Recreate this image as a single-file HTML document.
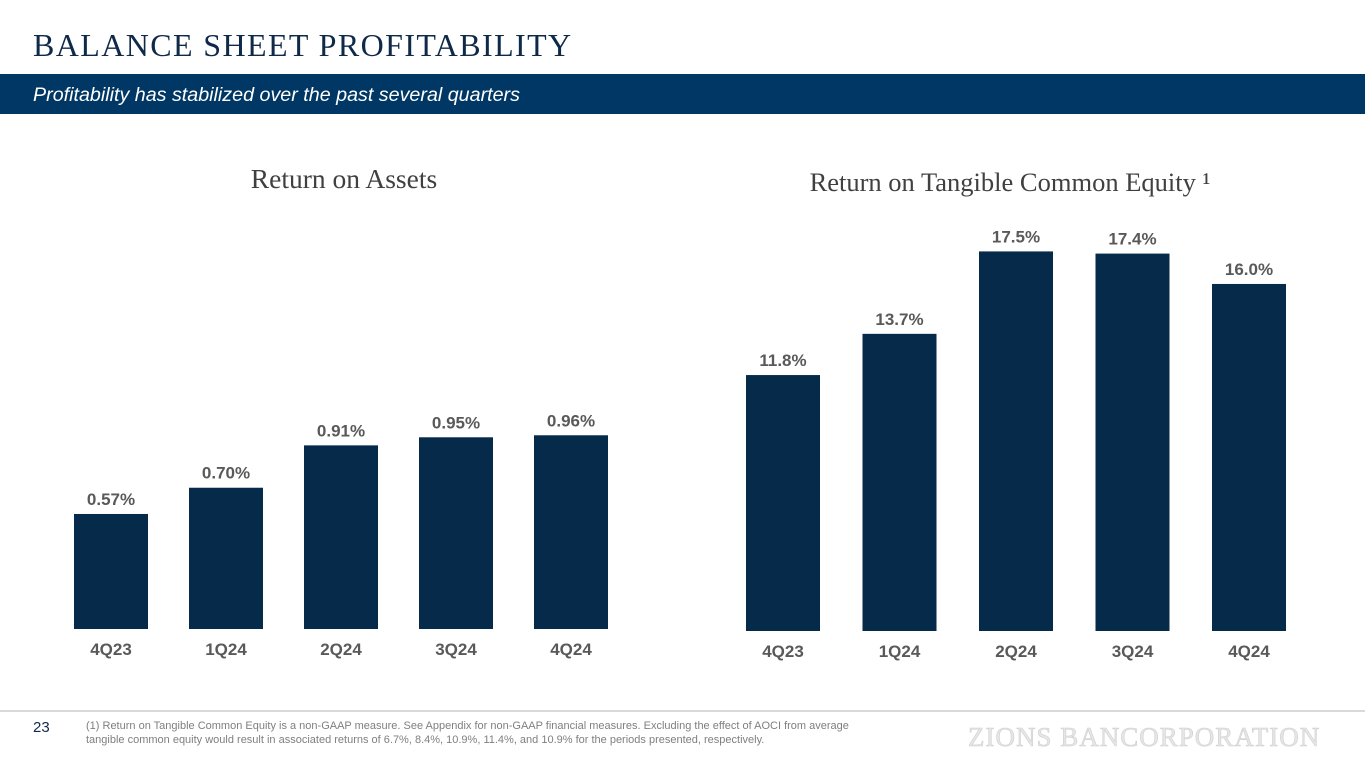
<!DOCTYPE html>
<html><head><meta charset="utf-8"><style>
body{margin:0;width:1365px;height:768px;background:#fff;overflow:hidden;position:relative;font-family:"Liberation Sans",sans-serif}
.abs{position:absolute}
</style></head><body>
<div class="abs" style="left:33px;top:27px;font-family:'Liberation Serif',serif;font-size:32px;letter-spacing:1.4px;color:#0f2a48;">BALANCE SHEET PROFITABILITY</div>
<div class="abs" style="left:0;top:74px;width:1365px;height:40px;background:#003764;"></div>
<div class="abs" style="left:33px;top:84px;font-size:19.7px;font-style:italic;color:#fff;">Profitability has stabilized over the past several quarters</div>
<svg class="abs" style="left:0;top:0" width="1365" height="768">
<g id="roa"></g>
<g id="rotce"></g>
</svg>
<div class="abs" style="left:0;top:710px;width:1365px;height:2px;background:#d9d9d9;"></div>
<div class="abs" style="left:33px;top:719px;font-size:15px;color:#0f2a48;">23</div>
<div class="abs" style="left:86px;top:719px;font-size:11px;line-height:14px;color:#7f7f7f;width:800px;">(1) Return on Tangible Common Equity is a non-GAAP measure. See Appendix for non-GAAP financial measures. Excluding the effect of AOCI from average tangible common equity would result in associated returns of 6.7%, 8.4%, 10.9%, 11.4%, and 10.9% for the periods presented, respectively.</div>
<div class="abs" style="left:968px;top:722px;font-family:'Liberation Serif',serif;font-size:27px;letter-spacing:1px;color:#e6e6e6;-webkit-text-stroke:0.6px #cfcfcf;">ZIONS BANCORPORATION</div>
<script>
const categories=["4Q23","1Q24","2Q24","3Q24","4Q24"];
const roaValues=[0.57,0.70,0.91,0.95,0.96];
const roaLabels=["0.57%","0.70%","0.91%","0.95%","0.96%"];
const rotceValues=[11.8,13.7,17.5,17.4,16.0];
const rotceLabels=["11.8%","13.7%","17.5%","17.4%","16.0%"];
const NS="http://www.w3.org/2000/svg";
function mk(t,a){const e=document.createElementNS(NS,t);for(const k in a)e.setAttribute(k,a[k]);return e;}
function draw(gid,vals,labels,title,cfg){
  const g=document.getElementById(gid);
  const y=v=>cfg.base-v*cfg.scale;
  const x=i=>cfg.x0+i*cfg.step;
  const t=mk('text',{x:cfg.tx,y:cfg.ty,'text-anchor':'middle','font-family':'Liberation Serif, serif','font-size':cfg.tf,fill:'#404040'});
  t.textContent=title;
  
  
  g.appendChild(t);
  vals.forEach((v,i)=>{
    const r=mk('rect',{x:x(i)-37,y:y(v),width:74,height:cfg.base-y(v),fill:'#062a4a'});
    
    
    g.appendChild(r);
    const l=mk('text',{x:x(i),y:y(v)-9,'text-anchor':'middle','font-size':17,'font-weight':'bold',fill:'#595959'});
    l.textContent=labels[i];
    
    
    g.appendChild(l);
    const c=mk('text',{x:x(i),y:cfg.base+26,'text-anchor':'middle','font-size':17,'font-weight':'bold',fill:'#595959'});
    c.textContent=categories[i];
    
    
    g.appendChild(c);
  });
}
draw('roa',roaValues,roaLabels,'Return on Assets',{base:629,scale:201.8,x0:111,step:115,tx:344,ty:188,tf:27.5});
draw('rotce',rotceValues,rotceLabels,'Return on Tangible Common Equity \u00B9',{base:631,scale:21.69,x0:783,step:116.5,tx:1010,ty:191,tf:26.5});
</script>
</body></html>
